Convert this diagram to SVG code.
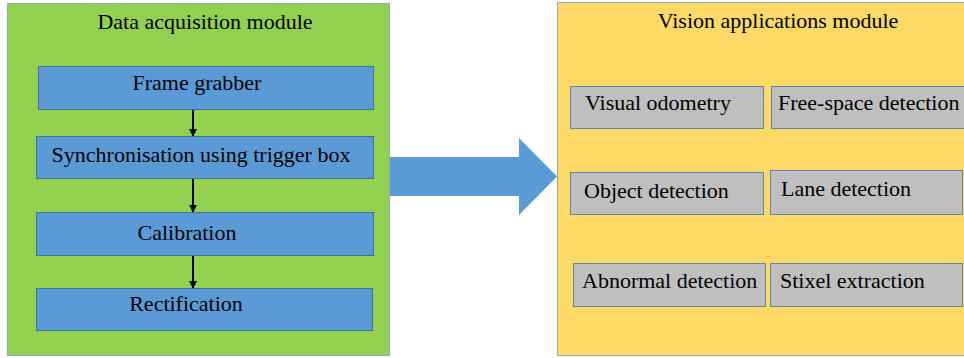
<svg xmlns="http://www.w3.org/2000/svg" width="964" height="358" viewBox="0 0 964 358">
  <style>
    .lbl { font-family: 'Liberation Serif', 'Times New Roman', serif; font-size: 22px; fill: #000; }
    .mid { text-anchor: middle; }
    .module-acq { fill: #92D050; stroke: #8FAAC4; stroke-width: 1; }
    .module-vis { fill: #FFD966; stroke: #8FAAC4; stroke-width: 1; }
    .step { fill: #5B9BD5; stroke: #41719C; stroke-width: 1; }
    .app { fill: #BFBFBF; stroke: #5E86AE; stroke-width: 1; }
    .flow { stroke: #000; stroke-width: 2; fill: none; }
  </style>
  <defs>
    <marker id="head" viewBox="0 0 10 10" refX="9" refY="5" markerWidth="4" markerHeight="4" orient="auto" markerUnits="strokeWidth">
      <path d="M0,0 L10,5 L0,10 z" fill="#000"/>
    </marker>
  </defs>

  <rect width="964" height="358" fill="#FFFFFF"/>

  <!-- big block arrow between modules -->
  <g id="transfer-arrow">
    <path d="M385,157 L519,157 L519,138 L557,176.5 L519,215 L519,196 L385,196 Z" fill="#5B9BD5"/>
  </g>

  <!-- left module -->
  <g id="data-acquisition-module">
    <rect class="module-acq" x="7.5" y="3.5" width="382" height="352"/>
    <text class="lbl mid" x="205" y="29">Data acquisition module</text>
  </g>

  <!-- pipeline steps -->
  <g id="frame-grabber">
    <rect class="step" x="38.5" y="66.5" width="335" height="43"/>
    <text class="lbl mid" x="197" y="90">Frame grabber</text>
  </g>
  <g id="synchronisation">
    <rect class="step" x="36.5" y="136.5" width="337" height="42"/>
    <text class="lbl mid" x="201" y="162">Synchronisation using trigger box</text>
  </g>
  <g id="calibration">
    <rect class="step" x="36.5" y="212.5" width="337" height="43"/>
    <text class="lbl mid" x="187" y="240">Calibration</text>
  </g>
  <g id="rectification">
    <rect class="step" x="36.5" y="288.5" width="336" height="42"/>
    <text class="lbl mid" x="186" y="311">Rectification</text>
  </g>

  <!-- right module -->
  <g id="vision-applications-module">
    <rect class="module-vis" x="557.5" y="2.5" width="420" height="353"/>
    <text class="lbl mid" x="778" y="28">Vision applications module</text>
  </g>

  <!-- application tiles -->
  <g id="visual-odometry">
    <rect class="app" x="570.5" y="86.5" width="193" height="42"/>
    <text class="lbl" x="585" y="110">Visual odometry</text>
  </g>
  <g id="free-space-detection">
    <rect class="app" x="771.5" y="86.5" width="200" height="42"/>
    <text class="lbl" x="778" y="110">Free-space detection</text>
  </g>
  <g id="object-detection">
    <rect class="app" x="570.5" y="172.5" width="193" height="42"/>
    <text class="lbl" x="584" y="198">Object detection</text>
  </g>
  <g id="lane-detection">
    <rect class="app" x="770.5" y="170.5" width="192" height="44"/>
    <text class="lbl" x="781" y="196">Lane detection</text>
  </g>
  <g id="abnormal-detection">
    <rect class="app" x="573.5" y="263.5" width="192" height="43"/>
    <text class="lbl" x="582" y="288">Abnormal detection</text>
  </g>
  <g id="stixel-extraction">
    <rect class="app" x="770.5" y="263.5" width="192" height="43"/>
    <text class="lbl" x="780" y="288">Stixel extraction</text>
  </g>

  <!-- pipeline connectors -->
  <g id="connectors">
    <line class="flow" x1="193" y1="110" x2="193" y2="136" marker-end="url(#head)"/>
    <line class="flow" x1="193" y1="179" x2="193" y2="212" marker-end="url(#head)"/>
    <line class="flow" x1="193" y1="256" x2="193" y2="288" marker-end="url(#head)"/>
  </g>
</svg>
